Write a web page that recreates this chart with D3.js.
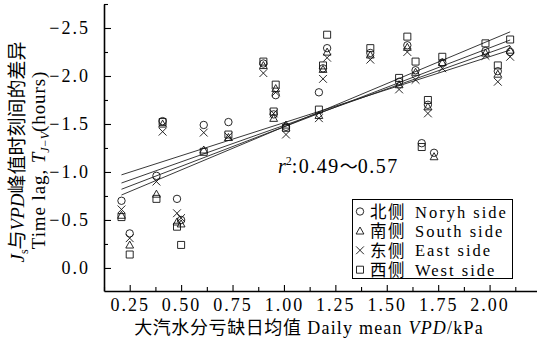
<!DOCTYPE html>
<html><head><meta charset="utf-8">
<script src="https://cdn.jsdelivr.net/npm/d3@7"></script>
<style>
html,body{margin:0;padding:0;background:#fff;}
svg{display:block;}
</style></head>
<body>
<script>
// ---- data ----
const northX = [0.21,0.25,0.38,0.41,0.48,0.50,0.61,0.73,0.90,0.95,0.96,1.01,1.17,1.19,1.21,1.42,1.56,1.60,1.64,1.67,1.70,1.73,1.77,1.98,2.04,2.10];
const northY = [-0.70,-0.36,-0.96,-1.53,-0.72,-0.50,-1.49,-1.52,-2.13,-1.60,-1.80,-1.47,-1.83,-2.08,-2.29,-2.24,-1.94,-2.32,-2.06,-1.30,-1.70,-1.20,-2.14,-2.26,-2.05,-2.25];
const southX = [0.21,0.25,0.38,0.41,0.48,0.50,0.61,0.73,0.90,0.95,0.96,1.01,1.17,1.19,1.21,1.42,1.56,1.60,1.64,1.70,1.73,1.77,1.98,2.04,2.10];
const southY = [-0.55,-0.24,-0.77,-1.50,-0.48,-0.46,-1.23,-1.36,-2.11,-1.56,-1.87,-1.49,-1.59,-2.07,-2.25,-2.22,-1.91,-2.30,-2.04,-1.68,-1.16,-2.14,-2.24,-2.02,-2.27];
const eastX = [0.21,0.25,0.38,0.41,0.48,0.50,0.61,0.73,0.90,0.95,0.96,1.01,1.17,1.19,1.21,1.42,1.56,1.60,1.64,1.70,1.77,1.98,2.04,2.10];
const eastY = [-0.61,-0.31,-0.90,-1.42,-0.57,-0.52,-1.41,-1.37,-2.03,-1.61,-1.83,-1.39,-1.56,-1.97,-2.19,-2.17,-1.86,-2.25,-1.96,-1.61,-2.08,-2.21,-1.94,-2.20];
const westX = [0.21,0.25,0.38,0.41,0.48,0.50,0.61,0.73,0.90,0.95,0.96,1.01,1.17,1.19,1.21,1.42,1.56,1.60,1.64,1.67,1.70,1.77,1.98,2.04,2.10];
const westY = [-0.53,-0.14,-0.72,-1.52,-0.43,-0.24,-1.21,-1.39,-2.15,-1.63,-1.91,-1.46,-1.65,-2.11,-2.43,-2.29,-1.98,-2.41,-2.15,-1.26,-1.75,-2.20,-2.34,-2.11,-2.38];
// regression lines (start / end)
const fitX = [0.21, 2.10];
const fitStartY = [-0.97,-0.885,-0.82,-0.76];
const fitEndY = [-2.27,-2.32,-2.375,-2.46];
const xTicks = [0.25,0.50,0.75,1.00,1.25,1.50,1.75,2.00];
const xMinor = [0.125,0.375,0.625,0.875,1.125,1.375,1.625,1.875,2.125];
const yTicks = [0,-0.5,-1.0,-1.5,-2.0,-2.5];
const yMinor = [-0.25,-0.75,-1.25,-1.75,-2.25,-2.75];
const legendCN = ["北侧","南侧","东侧","西侧"];
const legendEN = ["Noryh side","South side","East side","West side"];

const W=537,H=345;
const SERIF="'Liberation Serif','DejaVu Serif',serif";
const CJK="'Noto Sans CJK SC','Noto Sans CJK JP',sans-serif";
const MIX="'Liberation Serif','Noto Sans CJK SC',serif";
const svg=d3.select("body").append("svg").attr("width",W).attr("height",H);
svg.append("rect").attr("width",W).attr("height",H).attr("fill","#fff");

const x=d3.scaleLinear().domain([0.125,2.25]).range([104,541]);
const y=d3.scaleLinear().domain([0.24,-2.75]).range([291,4]);

// axes
const fmtX=d3.format(".2f"), fmtY=d3.format(".1f");
svg.append("g").attr("transform","translate(0,291)")
  .call(d3.axisBottom(x).tickValues(xTicks).tickSize(-6).tickSizeOuter(0).tickPadding(7).tickFormat(fmtX));
svg.append("g").attr("transform","translate(0,291)")
  .call(d3.axisBottom(x).tickValues(xMinor).tickSize(-4).tickSizeOuter(0).tickFormat(""))
  .select(".domain").remove();
svg.append("g").attr("transform","translate(104,0)")
  .call(d3.axisLeft(y).tickValues(yTicks).tickSize(-7).tickSizeOuter(0).tickPadding(14).tickFormat(fmtY));
svg.append("g").attr("transform","translate(104,0)")
  .call(d3.axisLeft(y).tickValues(yMinor).tickSize(-4).tickSizeOuter(0).tickFormat(""))
  .select(".domain").remove();
svg.selectAll(".domain").attr("stroke","#000").attr("stroke-width",1.6);
svg.selectAll(".tick line").attr("stroke","#000").attr("stroke-width",1.1);
svg.selectAll(".tick text").attr("font-family",SERIF).attr("font-size",18).attr("fill","#000").attr("letter-spacing",2);

// regression lines
fitStartY.forEach((s,i)=>{
  svg.append("line").attr("x1",x(fitX[0])).attr("y1",y(s)).attr("x2",x(fitX[1])).attr("y2",y(fitEndY[i]))
    .attr("stroke","#222").attr("stroke-width",0.9);
});

// markers
function marker(g,type,cx,cy){
  const s=g.append("path").attr("fill","none").attr("stroke","#111").attr("stroke-width",0.9);
  let d;
  if(type==="circle"){ const r=3.7; d=`M${cx-r},${cy}a${r},${r} 0 1,0 ${2*r},0a${r},${r} 0 1,0 ${-2*r},0`; }
  else if(type==="triangle"){ const h=3.9; d=`M${cx},${cy-h}L${cx+h},${cy+h*0.8}L${cx-h},${cy+h*0.8}Z`; }
  else if(type==="x"){ const h=3.9; d=`M${cx-h},${cy-h}L${cx+h},${cy+h}M${cx-h},${cy+h}L${cx+h},${cy-h}`; }
  else { const h=3.5; d=`M${cx-h},${cy-h}h${2*h}v${2*h}h${-2*h}Z`; }
  s.attr("d",d);
}
const series=[["circle",northX,northY],["triangle",southX,southY],["x",eastX,eastY],["square",westX,westY]];
const gp=svg.append("g");
series.forEach(([t,xs,ys])=>{ xs.forEach((v,i)=>marker(gp,t,x(v),y(ys[i]))); });

// r2 text
const rt=svg.append("text").attr("x",278).attr("y",173).attr("font-size",20).attr("fill","#000").attr("font-family",SERIF);
rt.append("tspan").attr("font-style","italic").text("r");
rt.append("tspan").attr("font-size",12).attr("dy",-8).text("2");
rt.append("tspan").attr("dy",8).attr("letter-spacing",1.5).text(":0.49");
rt.append("tspan").attr("font-family",CJK).attr("font-size",18).text("～");
rt.append("tspan").attr("letter-spacing",1.5).text("0.57");

// legend
svg.append("rect").attr("x",352.5).attr("y",199.5).attr("width",160).attr("height",79).attr("fill","#fff").attr("stroke","#000").attr("stroke-width",1);
const ltypes=["circle","triangle","x","square"];
ltypes.forEach((t,i)=>{
  const cy=211.5+i*19.4;
  const lg=svg.append("g");
  marker(lg,t,360,cy);
  svg.append("text").attr("x",370).attr("y",cy+6.5).attr("fill","#000").attr("font-size",16.5)
    .attr("font-family",MIX).attr("letter-spacing",1.5).text(legendCN[i]);
  svg.append("text").attr("x",415).attr("y",cy+6).attr("fill","#000").attr("font-size",16.5)
    .attr("font-family",SERIF).attr("letter-spacing",2).text(legendEN[i]);
});

// x title
const xt=svg.append("text").attr("x",309).attr("y",334).attr("text-anchor","middle").attr("fill","#000").attr("font-size",18).attr("font-family",MIX);
xt.append("tspan").attr("letter-spacing",0.6).text("大汽水分亏缺日均值");
xt.append("tspan").attr("font-family",SERIF).attr("letter-spacing",1.2).text(" Daily mean ");
xt.append("tspan").attr("font-family",SERIF).attr("font-style","italic").attr("letter-spacing",1.2).text("VPD");
xt.append("tspan").attr("font-family",SERIF).attr("letter-spacing",1.2).text("/kPa");

// y titles
const y1=svg.append("text").attr("transform","translate(24,152) rotate(-90)").attr("text-anchor","middle").attr("fill","#000").attr("font-size",19);
y1.append("tspan").attr("font-family",SERIF).attr("font-style","italic").text("J");
y1.append("tspan").attr("font-family",SERIF).attr("font-size",12).attr("dy",4).text("s");
y1.append("tspan").attr("font-family",CJK).attr("dy",-4).text("与");
y1.append("tspan").attr("font-family",SERIF).attr("font-style","italic").text("VPD");
y1.append("tspan").attr("font-family",CJK).text("峰值时刻间的差异");

const y2=svg.append("text").attr("transform","translate(45,160) rotate(-90)").attr("text-anchor","middle").attr("fill","#000").attr("font-size",19).attr("font-family",SERIF);
y2.append("tspan").attr("letter-spacing",0.9).text("Time lag, ");
y2.append("tspan").attr("font-style","italic").text("T");
y2.append("tspan").attr("font-style","italic").attr("font-size",12).attr("dy",4).text("J−V");
y2.append("tspan").attr("dy",-4).attr("letter-spacing",0.9).text("(hours)");
</script>
</body></html>
